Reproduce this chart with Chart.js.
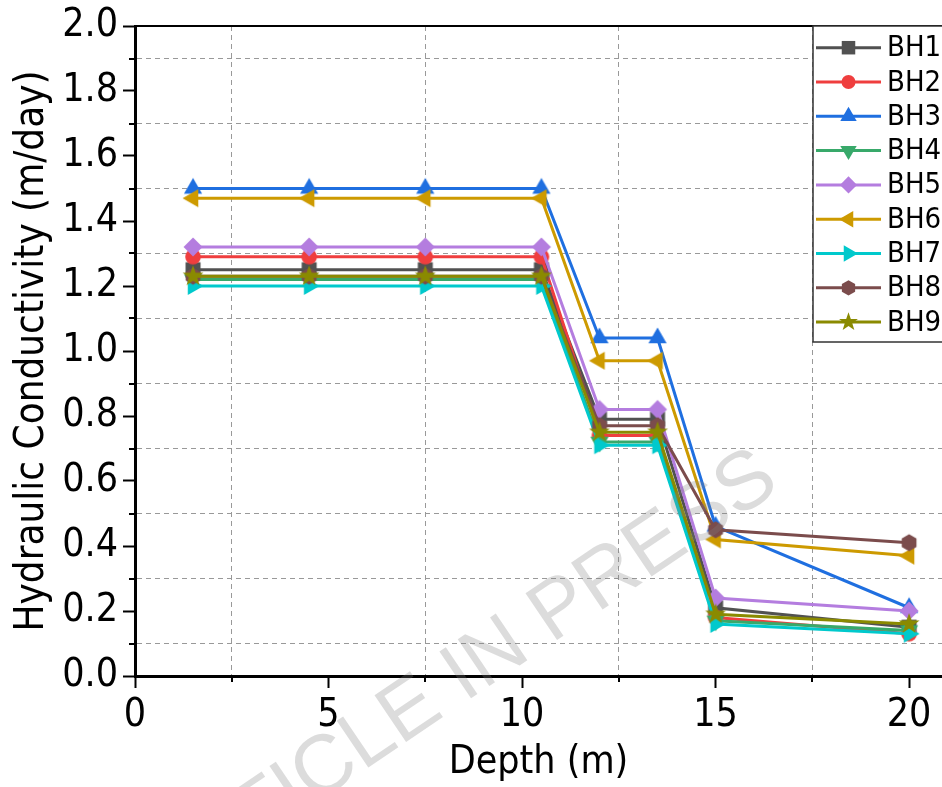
<!DOCTYPE html>
<html>
<head>
<meta charset="utf-8">
<script src="https://cdn.jsdelivr.net/npm/chart.js@4.4.1/dist/chart.umd.min.js"></script>
<style>
html,body{margin:0;padding:0;background:#fff;}
canvas{display:block;}
</style>
</head>
<body>
<canvas id="c" width="942" height="787"></canvas>
<script>
/* DATA */
const depth=[1.5,4.5,7.5,10.5,12,13.5,15,20];
const bh1=[1.25,1.25,1.25,1.25,0.79,0.79,0.21,0.15];
const bh2=[1.29,1.29,1.29,1.29,0.74,0.74,0.18,0.13];
const bh3=[1.50,1.50,1.50,1.50,1.04,1.04,0.46,0.21];
const bh4=[1.22,1.22,1.22,1.22,0.72,0.72,0.17,0.14];
const bh5=[1.32,1.32,1.32,1.32,0.82,0.82,0.24,0.20];
const bh6=[1.47,1.47,1.47,1.47,0.97,0.97,0.42,0.37];
const bh7=[1.20,1.20,1.20,1.20,0.71,0.71,0.16,0.13];
const bh8=[1.23,1.23,1.23,1.23,0.77,0.77,0.45,0.41];
const bh9=[1.23,1.23,1.23,1.23,0.75,0.75,0.19,0.16];
const names=['BH1','BH2','BH3','BH4','BH5','BH6','BH7','BH8','BH9'];
const series=[bh1,bh2,bh3,bh4,bh5,bh6,bh7,bh8,bh9];
const colors=['#515151','#ef3e3e','#1f6fe0','#38a96a','#b47ddf','#cd9a00','#00c9cc','#7b4c4c','#8a8a00'];
const shapes=['square','circle','triUp','triDown','diamond','triLeft','triRight','hexagon','star'];
const xLabelStep=5, yLabelStep=0.2;

const FONT="'DejaVu Sans Condensed','DejaVu Sans',sans-serif";

/* MARKERS */
function marker(ctx,shape,x,y,k,color){
  ctx.save();ctx.fillStyle=color;ctx.beginPath();
  const poly=(n,rot,r)=>{for(let i=0;i<n;i++){const a=rot+i*2*Math.PI/n;const px=x+r*Math.cos(a),py=y+r*Math.sin(a);i?ctx.lineTo(px,py):ctx.moveTo(px,py);}ctx.closePath();};
  switch(shape){
    case 'square':ctx.rect(x-7.5*k,y-7.5*k,15*k,15*k);break;
    case 'circle':ctx.arc(x,y,7.8*k,0,2*Math.PI);break;
    case 'triUp':poly(3,-Math.PI/2,10.5*k);break;
    case 'triDown':poly(3,Math.PI/2,10.5*k);break;
    case 'triLeft':poly(3,Math.PI,10.5*k);break;
    case 'triRight':poly(3,0,10.5*k);break;
    case 'diamond':poly(4,-Math.PI/2,9.5*k);break;
    case 'hexagon':poly(6,-Math.PI/2,8.5*k);break;
    case 'star':
      for(let i=0;i<10;i++){const r=(i%2?4.4:11)*k;const a=-Math.PI/2+i*Math.PI/5;const px=x+r*Math.cos(a),py=y+r*Math.sin(a);i?ctx.lineTo(px,py):ctx.moveTo(px,py);}
      ctx.closePath();break;
  }
  ctx.fill();ctx.restore();
}
function markerImg(shape,color){
  const c=document.createElement('canvas');c.width=26;c.height=26;
  marker(c.getContext('2d'),shape,13,13,1,color);
  return c;
}

const isMajorX=v=>Math.abs(v/xLabelStep-Math.round(v/xLabelStep))<1e-6;
const isMajorY=v=>Math.abs(v/yLabelStep-Math.round(v/yLabelStep))<1e-6;

/* PLUGINS */
const decor={
  id:'decor',
  afterDraw(chart){
    const {ctx,chartArea:a,scales:{x,y}}=chart;
    ctx.save();
    ctx.strokeStyle='#000';ctx.lineWidth=2;ctx.beginPath();
    x.ticks.forEach(t=>{if(!isMajorX(t.value)){const p=Math.round(x.getPixelForValue(t.value));ctx.moveTo(p,a.bottom);ctx.lineTo(p,a.bottom+6);}});
    y.ticks.forEach(t=>{if(!isMajorY(t.value)){const p=Math.round(y.getPixelForValue(t.value));ctx.moveTo(a.left,p);ctx.lineTo(a.left-6,p);}});
    ctx.stroke();
    ctx.beginPath();ctx.lineWidth=2;ctx.moveTo(a.left,a.top);ctx.lineTo(a.right,a.top);ctx.stroke();

    /* legend */
    const lx=813,ly=a.top,lh=316;
    ctx.fillStyle='#fff';ctx.fillRect(lx,ly,140,lh);
    ctx.strokeStyle='#333';ctx.lineWidth=1.5;ctx.strokeRect(lx,ly,140,lh);
    ctx.font='29px '+FONT;ctx.textBaseline='middle';ctx.textAlign='left';
    names.forEach((n,i)=>{
      const ry=ly+21.7+i*34.3;
      ctx.strokeStyle=colors[i];ctx.lineWidth=3;
      ctx.beginPath();ctx.moveTo(816,ry);ctx.lineTo(881,ry);ctx.stroke();
      marker(ctx,shapes[i],848.5,ry,0.9,colors[i]);
      ctx.fillStyle='#000';ctx.fillText(n,887,ry+1);
    });

    /* watermark */
    ctx.translate(160,908);ctx.rotate(-34*Math.PI/180);
    ctx.font='82px "Liberation Sans",Arial,sans-serif';
    ctx.fillStyle='rgba(128,128,128,0.28)';
    ctx.textBaseline='alphabetic';
    ctx.fillText('ARTICLE IN PRESS',0,0);
    ctx.restore();
  }
};

/* CHART */
new Chart(document.getElementById('c'),{
  type:'line',
  data:{datasets:series.map((s,i)=>({
    label:names[i],
    data:s.map((v,j)=>({x:depth[j],y:v})),
    borderColor:colors[i],backgroundColor:colors[i],
    borderWidth:3,tension:0,fill:false,
    pointStyle:markerImg(shapes[i],colors[i]),pointRadius:8,
    order:9-i,clip:false
  }))},
  options:{
    responsive:false,animation:false,events:[],
    layout:{autoPadding:false,padding:{top:26,right:0,left:0,bottom:0}},
    plugins:{legend:{display:false},tooltip:{enabled:false}},
    scales:{
      x:{type:'linear',min:0,max:20.85,
        afterFit:s=>{s.height=111;s.paddingRight=0;s.paddingLeft=0;},
        ticks:{stepSize:2.5,includeBounds:false,autoSkip:false,maxRotation:0,padding:4,color:'#000',
          font:{family:FONT,size:39},callback:v=>isMajorX(v)?String(Math.round(v)):''},
        grid:{color:c=>isMajorX(c.tick.value)?'rgba(0,0,0,0)':'#999',lineWidth:1,
          tickColor:c=>isMajorX(c.tick.value)?'#000':'rgba(0,0,0,0)',tickLength:12,tickWidth:2},
        border:{color:'#000',width:3,dash:[5,4]},
        title:{display:true,text:'Depth (m)',color:'#000',font:{family:FONT,size:39},padding:{top:0,bottom:1}}
      },
      y:{min:0,max:2,
        afterFit:s=>{s.width=135;s.paddingTop=0;s.paddingBottom=0;},
        ticks:{stepSize:0.1,autoSkip:false,padding:5,color:'#000',
          font:{family:FONT,size:39},callback:v=>isMajorY(v)?v.toFixed(1):''},
        grid:{color:c=>isMajorY(c.tick.value)?'rgba(0,0,0,0)':'#999',lineWidth:1,
          tickColor:c=>isMajorY(c.tick.value)?'#000':'rgba(0,0,0,0)',tickLength:12,tickWidth:2},
        border:{color:'#000',width:3,dash:[5,4]},
        title:{display:true,text:'Hydraulic Conductivity (m/day)',color:'#000',font:{family:FONT,size:40},padding:{top:9,bottom:0}}
      }
    }
  },
  plugins:[decor]
});
</script>
</body>
</html>
